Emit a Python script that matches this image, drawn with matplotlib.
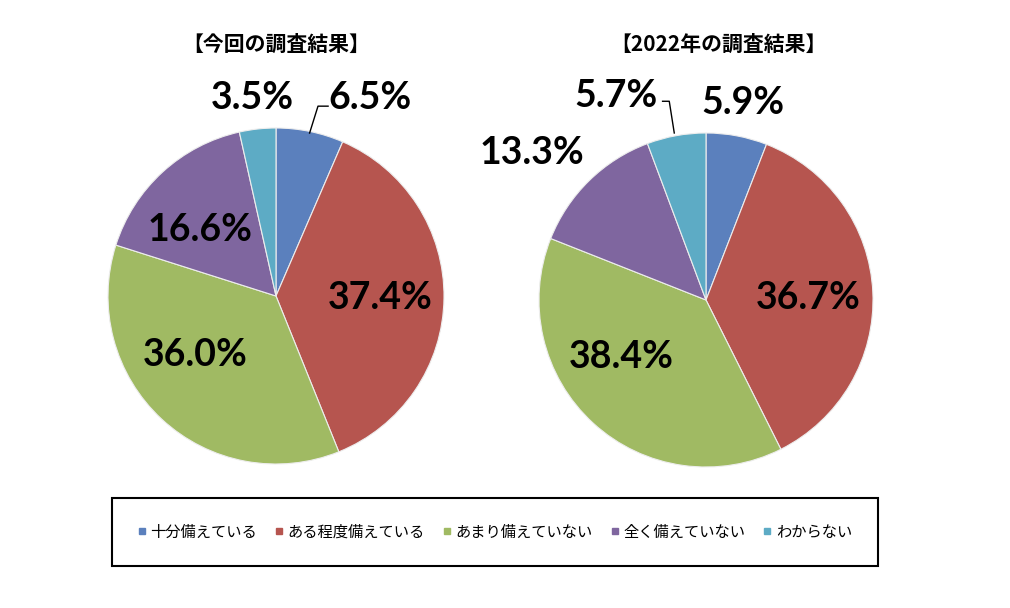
import matplotlib
matplotlib.use("Agg")
import matplotlib.pyplot as plt
from matplotlib.lines import Line2D
from matplotlib.patches import Rectangle

plt.rcParams["font.family"] = ["Noto Sans CJK JP", "DejaVu Sans"]

CATEGORIES = ["十分備えている", "ある程度備えている", "あまり備えていない", "全く備えていない", "わからない"]
CURRENT = [6.5, 37.4, 36.0, 16.6, 3.5]
PREV_2022 = [5.9, 36.7, 38.4, 13.3, 5.7]
TITLES = ["【今回の調査結果】", "【2022年の調査結果】"]

COLORS = ["#5B80BD", "#B6554F", "#A0BA63", "#7F669F", "#5DABC5"]

# label placement (pie radius units), Excel-style
LABEL_POS_LEFT = [(0.56, 1.18), (0.62, -0.01), (-0.48, -0.35), (-0.45, 0.39), (-0.14, 1.18)]
LABEL_POS_RIGHT = [(0.22, 1.18), (0.61, 0.01), (-0.51, -0.34), (-1.04, 0.88), (-0.54, 1.22)]
LEADER_LEFT = [(0.20, 0.97), (0.25, 1.13), (0.31, 1.13)]
LEADER_RIGHT = [(-0.19, 1.0), (-0.22, 1.19), (-0.26, 1.19)]

W, H = 1010, 608
fig = plt.figure(figsize=(W / 100, H / 100), dpi=100)


def pie_axes(cx, cy, r):
    return fig.add_axes([(cx - r) / W, (H - cy - r) / H, 2 * r / W, 2 * r / H])


panels = [
    (pie_axes(276, 296, 168), CURRENT, LABEL_POS_LEFT, LEADER_LEFT, TITLES[0], 276),
    (pie_axes(706, 300, 167), PREV_2022, LABEL_POS_RIGHT, LEADER_RIGHT, TITLES[1], 718),
]

for ax, vals, pos, leader, title, tx in panels:
    ax.pie(vals, colors=COLORS, startangle=90, counterclock=False, radius=1,
           wedgeprops=dict(edgecolor="#EDEDED", linewidth=0.8))
    ax.set_xlim(-1, 1)
    ax.set_ylim(-1, 1)
    ax.set_aspect("equal")
    ax.axis("off")
    for v, (x, y) in zip(vals, pos):
        ax.text(x, y, f"{v:.1f}%", ha="center", va="center", fontsize=27,
                fontweight="bold", family=["Lato", "DejaVu Sans"], color="black")
    lx, ly = zip(*leader)
    ax.plot(lx, ly, color="black", lw=1.0, clip_on=False)
    fig.text(tx / W, 1 - 44 / H, title, ha="center", va="center",
             fontsize=15, fontweight="bold")

# legend box
fig.add_artist(Rectangle((112 / W, 1 - 566 / H), (878 - 112) / W, (566 - 498) / H,
                         transform=fig.transFigure, fill=False, edgecolor="black", lw=1.5))
handles = [Line2D([], [], marker="s", markersize=5, linestyle="none", color=c) for c in COLORS]
fig.legend(handles, CATEGORIES, loc="center", bbox_to_anchor=(495 / W, 1 - 532 / H),
           ncol=5, frameon=False, fontsize=11, handlelength=0.5, handletextpad=0.3,
           columnspacing=1.2)

fig.savefig("out.png", dpi=100)
